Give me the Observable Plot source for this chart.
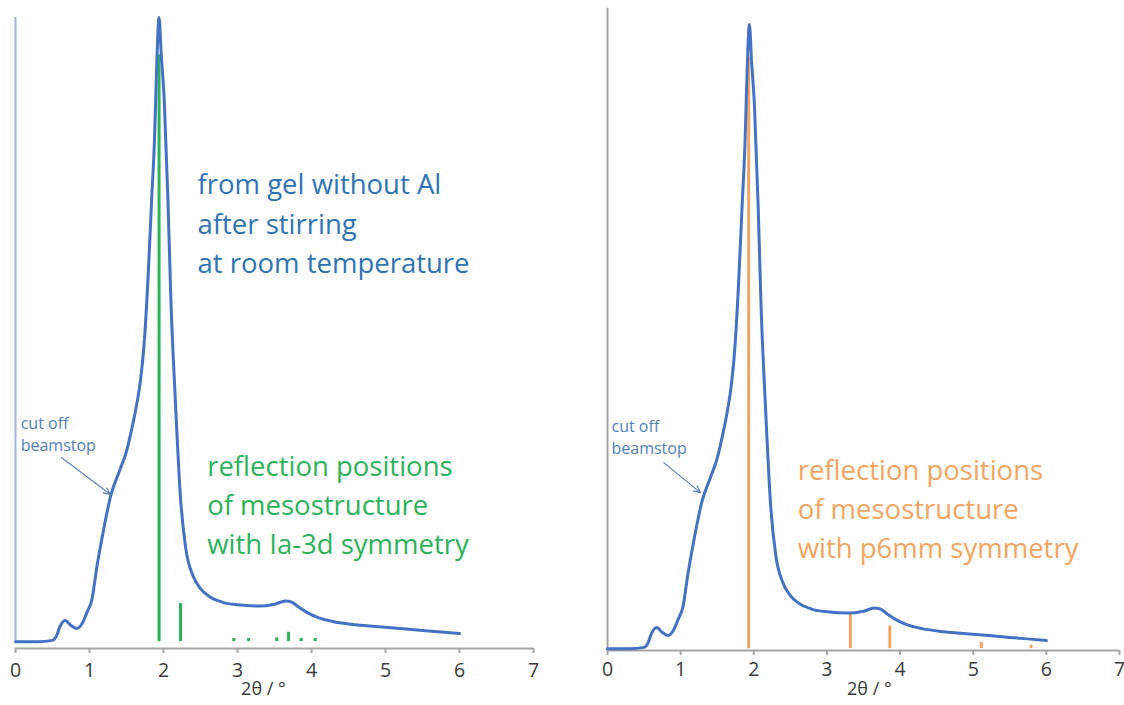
<!DOCTYPE html>
<html>
<head>
<meta charset="utf-8">
<script src="https://cdn.jsdelivr.net/npm/d3@7"></script>
<script src="https://cdn.jsdelivr.net/npm/@observablehq/plot@0.6"></script>
<style>
  html, body { margin: 0; padding: 0; background: #fff; }
  #wrap { display: flex; width: 1124px; height: 705px; overflow: hidden; }
  svg { overflow: visible; }
</style>
</head>
<body>
<div id="wrap"></div>
<script>
// Measured XRD pattern (2θ in degrees, intensity in % of maximum)
const twoTheta = [0, 0.3, 0.5, 0.55, 0.6, 0.67, 0.75, 0.83, 0.9, 0.97, 1.03, 1.1, 1.18, 1.29, 1.41, 1.5,
  1.57, 1.63, 1.69, 1.74, 1.79, 1.84, 1.88, 1.91, 1.94, 1.97, 2.01, 2.06, 2.1, 2.16, 2.23, 2.3, 2.4, 2.5, 2.6,
  2.8, 3.0, 3.3, 3.5, 3.65, 3.72, 3.82, 3.95, 4.1, 4.3, 4.6, 5.0, 5.5, 6.0];
const intensity = [0, 0, 0.2, 0.8, 2.4, 3.4, 2.6, 2.1, 2.9, 4.8, 6.6, 12, 17.3, 23.5, 27.5, 30.5,
  34, 37.5, 42, 48, 58, 70.8, 81, 93, 100, 94, 86.8, 70.8, 54.7, 38.7, 23, 15, 10.5, 8.5, 7.4,
  6.3, 5.9, 5.7, 6.0, 6.5, 6.4, 5.6, 4.6, 3.8, 3.2, 2.7, 2.3, 1.8, 1.3];

// Reflection positions, Ia-3d mesostructure
const ia3dPos = [1.94, 2.23, 2.95, 3.15, 3.53, 3.69, 3.86, 4.05];
const ia3dHeight = [94, 6.1, 0.5, 0.5, 0.6, 1.5, 0.5, 0.5];
// Reflection positions, p6mm mesostructure
const p6mmPos = [1.93, 3.32, 3.86, 5.11, 5.79];
const p6mmHeight = [94.7, 5.5, 3.6, 1.0, 0.5];

const xTicks = [0, 1, 2, 3, 4, 5, 6, 7];
const xTitle = "2θ / °";

// Annotation texts and anchor points (data coordinates)
const sampleText = "from gel without Al\nafter stirring\nat room temperature";
const ia3dText = "reflection positions\nof mesostructure\nwith Ia-3d symmetry";
const p6mmText = "reflection positions\nof mesostructure\nwith p6mm symmetry";
const beamText = "cut off\nbeamstop";
const leftNotes = {sample: [2.46, 67.4], refl: [2.59, 22.3], beam: [0.07, 33.5], arrow: [0.62, 29.5, 1.28, 23.6], title: 3.35};
const rightNotes = {refl: [2.6, 22.8], beam: [0.055, 34.1], arrow: [0.77, 29.8, 1.27, 25.0], title: 3.58};

const curve = twoTheta.map((x, i) => ({x, y: intensity[i]}));
const ia3d = ia3dPos.map((x, i) => ({x, h: ia3dHeight[i]}));
const p6mm = p6mmPos.map((x, i) => ({x, h: p6mmHeight[i]}));

const blue = "#4472c4";
const green = "#2cb35a";
const orange = "#f5a561";
const font = "Open Sans";

function panel({width, marginLeft, marginRight, marginTop, marginBottom, yMin, yAxisTop, yAxisColor, yAxisBottom,
                refl, reflColor, reflText, notes, withSample, tickPad, titleDy}) {
  const marks = [
    Plot.ruleX([0], {y1: yAxisBottom, y2: yAxisTop, stroke: yAxisColor, strokeWidth: 2}),
    Plot.ruleY([yMin], {stroke: "#a6a6a6", strokeWidth: 2}),
    Plot.axisX({ticks: xTicks, tickSize: 5, tickPadding: tickPad, fontSize: 19.5, stroke: "#a6a6a6", strokeWidth: 2,
                fill: "#3a3a3a", tickFormat: d3.format("d"), label: null}),
    Plot.text([xTitle], {x: [notes.title], frameAnchor: "bottom", dy: titleDy, fontSize: 18, fill: "#3a3a3a"}),
    Plot.ruleX(refl, {x: "x", y1: 0, y2: "h", stroke: reflColor, strokeWidth: 3}),
    Plot.line(curve, {x: "x", y: "y", stroke: blue, strokeWidth: 3, curve: "monotone-x"}),
    Plot.text([reflText], {x: [notes.refl[0]], y: [notes.refl[1]], textAnchor: "start", lineAnchor: "middle",
                fontSize: 27.5, lineHeight: 1.43, fill: reflColor}),
    Plot.text([beamText], {x: [notes.beam[0]], y: [notes.beam[1]], textAnchor: "start", lineAnchor: "middle",
                fontSize: 16, lineHeight: 1.4, fill: "#4f81bd"}),
    Plot.arrow([notes.arrow], {x1: d => d[0], y1: d => d[1], x2: d => d[2], y2: d => d[3],
                stroke: "#5a82b8", strokeWidth: 1.2, headLength: 9, headAngle: 50})
  ];
  if (withSample) {
    marks.push(Plot.text([sampleText], {x: [notes.sample[0]], y: [notes.sample[1]], textAnchor: "start",
                lineAnchor: "middle", fontSize: 27.5, lineHeight: 1.43, fill: "#2e75b6"}));
  }
  return Plot.plot({
    width, height: 705, marginLeft, marginRight, marginTop, marginBottom,
    style: {fontFamily: font, background: "transparent"},
    x: {domain: [0, 7], axis: null},
    y: {domain: [yMin, 100], axis: null},
    marks
  });
}

const wrap = document.getElementById("wrap");
wrap.append(panel({width: 562, marginLeft: 15, marginRight: 29, marginTop: 17, marginBottom: 57, yMin: -1.1,
  yAxisTop: 100, yAxisBottom: 0, yAxisColor: "#9bb5dd", refl: ia3d, reflColor: green, reflText: ia3dText,
  notes: leftNotes, withSample: true, tickPad: 10, titleDy: 46}));
wrap.append(panel({width: 562, marginLeft: 45, marginRight: 5, marginTop: 24, marginBottom: 55, yMin: -0.3,
  yAxisTop: 102.6, yAxisBottom: -0.3, yAxisColor: "#a6a6a6", refl: p6mm, reflColor: orange, reflText: p6mmText,
  notes: rightNotes, withSample: false, tickPad: 7, titleDy: 44}));
</script>
</body>
</html>
